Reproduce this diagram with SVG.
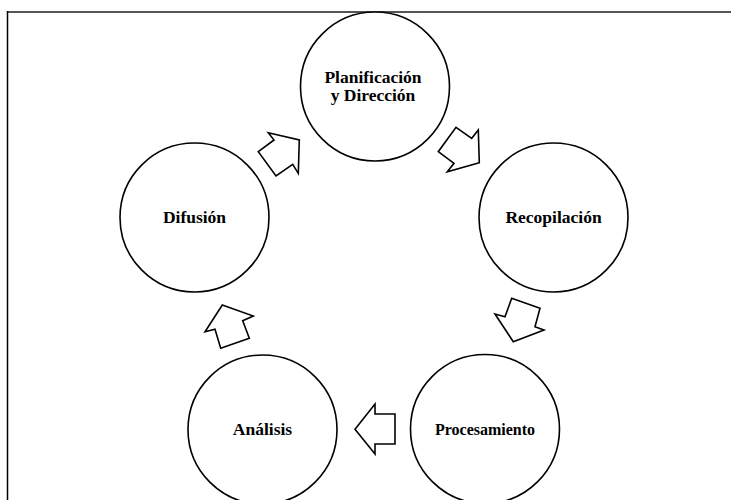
<svg xmlns="http://www.w3.org/2000/svg" width="731" height="500" viewBox="0 0 731 500">
<style>
.node circle{fill:#fff;stroke:#000;stroke-width:1.6}
.node text{font-family:"Liberation Serif","Times New Roman",serif;font-weight:bold;font-size:17.5px;fill:#000;text-anchor:middle}
.arrow{fill:#fff;stroke:#000;stroke-width:1.6;stroke-linejoin:miter}
</style>
<rect width="731" height="500" fill="#fff"/>
<g id="frame">
<line x1="7" y1="12" x2="731" y2="12" stroke="#555" stroke-width="2"/>
<line x1="7.5" y1="11" x2="7.5" y2="500" stroke="#000" stroke-width="1.5"/>
</g>
<g id="connectors">
<polygon class="arrow" points="299.3,140 298.3,173.3 292.7,164.3 276,176 258.3,151.7 274,140 268.3,132.7"/>
<polygon class="arrow" points="479.3,162.7 447.3,171.7 454,163.3 438.3,151.7 456,127.3 471.7,138.3 478.3,130"/>
<polygon class="arrow" points="513.3,341.7 495,314 505,316.7 511.7,298.3 540,308.3 535,326.7 544,330"/>
<polygon class="arrow" points="355,429.3 375,404 375,414 395,414 395,444 375,444 375,454"/>
<polygon class="arrow" points="222.3,305 253.3,316 242.7,320.7 249.3,338.3 220.7,348.3 215,329.3 205,331.7"/>
</g>
<g id="node-planificacion" class="node">
<circle cx="375" cy="86.5" r="74.5"/>
<text x="373" y="83">Planificación</text>
<text x="373" y="100.5">y Dirección</text>
</g>
<g id="node-recopilacion" class="node">
<circle cx="553.5" cy="217.5" r="74.5"/>
<text x="553.5" y="223">Recopilación</text>
</g>
<g id="node-procesamiento" class="node">
<circle cx="485" cy="429" r="74.5"/>
<text x="485" y="435" style="font-size:16px">Procesamiento</text>
</g>
<g id="node-analisis" class="node">
<circle cx="262.5" cy="429.5" r="74.5"/>
<text x="262.5" y="435">Análisis</text>
</g>
<g id="node-difusion" class="node">
<circle cx="194.5" cy="217.5" r="74.5"/>
<text x="194.5" y="223">Difusión</text>
</g>
</svg>
